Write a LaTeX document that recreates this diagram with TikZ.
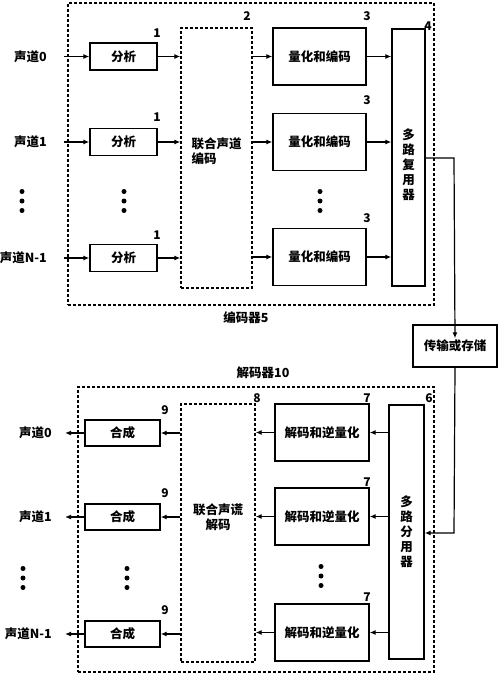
\documentclass[tikz,border=0pt]{standalone}
\usepackage{fontspec}
\newfontfamily\cjk{Noto Sans CJK SC}
\usetikzlibrary{arrows.meta,positioning}

\begin{document}
\begin{tikzpicture}[x=1pt, y=-1pt, font=\cjk\bfseries\fontsize{12.5}{15}\selectfont,
	box/.style = {draw, line width=1.4pt, inner sep=0pt},
	dbox/.style = {draw, line width=1.3pt, dash pattern=on 3pt off 2pt, inner sep=0pt},
	ana/.style = {box, minimum width=67pt, minimum height=27pt},
	qnt/.style = {box, minimum width=93pt, minimum height=57pt},
	syn/.style = {box, minimum width=75pt, minimum height=26pt},
	num/.style = {font=\cjk\bfseries\fontsize{12}{13}\selectfont, inner sep=0pt},
	inl/.style = {anchor=east, inner xsep=17pt},
	outl/.style = {anchor=east, inner xsep=13pt},
	arr/.style = {-{Latex[length=6pt,width=5pt]}, line width=1.2pt}]
	\useasboundingbox (0,0) rectangle (500,677);

	% encoder
	\node[dbox, minimum width=366pt, minimum height=302pt] (enc) at (251,154) {};
	\node (enclab) at (246,318) {编码器5};
	\node[inl] (c0) at (64,56.5) {声道0};
	\node[inl] (c1) at (64,142) {声道1};
	\node[inl] (c2) at (64,258) {声道N-1};
	\node[ana] (a0) at (123.5,56.5) {分析};
	\node[ana] (a1) at (123.5,142) {分析};
	\node[ana] (a2) at (123.5,258) {分析};
	\node[dbox, minimum width=71pt, minimum height=260pt,
		label={[align=left, yshift=6.5pt]center:{联合声道\\编码}}] (je) at (216.5,158) {};
	\node[qnt] (q0) at (319.5,56.5) {量化和编码};
	\node[qnt] (q1) at (319.5,142) {量化和编码};
	\node[qnt] (q2) at (319.5,257) {量化和编码};
	\node[box, minimum width=33pt, minimum height=257pt,
		label={[align=center, yshift=-7.5pt]center:{多\\路\\复\\用\\器}}] (mux) at (408.5,157.5) {};
	\node[box, minimum width=84pt, minimum height=42pt] (st) at (455,346) {传输或存储};
	\coordinate (tap) at (454,158);
	\coordinate (tap2) at (454,533);

	\node[num] (n1a) at (157,33) {1};
	\node[num] (n1b) at (157,117) {1};
	\node[num] (n1c) at (157,235) {1};
	\node[num] (n2) at (247,16) {2};
	\node[num] (n3a) at (367,16) {3};
	\node[num] (n3b) at (367,100) {3};
	\node[num] (n3c) at (367,218) {3};
	\node[num] (n4) at (428,26) {4};

	\draw[arr] (c0) -- (a0);
	\draw[arr] (c1) -- (a1);
	\draw[arr] (c2) -- (a2);
	\draw[arr] (a0) -- (a0 -| je.west);
	\draw[arr] (a1) -- (a1 -| je.west);
	\draw[arr] (a2) -- (a2 -| je.west);
	\draw[arr] (je.east |- q0) -- (q0);
	\draw[arr] (je.east |- q1) -- (q1);
	\draw[arr] (je.east |- q2) -- (q2);
	\draw[arr] (q0) -- (q0 -| mux.west);
	\draw[arr] (q1) -- (q1 -| mux.west);
	\draw[arr] (q2) -- (q2 -| mux.west);
	\draw[arr] (mux.east |- tap) -- (tap) -- ([yshift=-14pt]st.north);

	% decoder
	\node[dbox, minimum width=356pt, minimum height=285pt] (dec) at (256,529.5) {};
	\node (declab) at (263,373) {解码器10};
	\node[box, minimum width=35pt, minimum height=254pt, align=center] (dmx) at (406.5,532) {多\\路\\分\\用\\器};
	\node[qnt, minimum width=94pt] (d0) at (322,432.5) {解码和逆量化};
	\node[qnt, minimum width=94pt] (d1) at (322,516.5) {解码和逆量化};
	\node[qnt, minimum width=94pt] (d2) at (322,632.5) {解码和逆量化};
	\node[dbox, minimum width=74pt, minimum height=258pt,
		label={[align=center, yshift=16pt]center:{联合声谎\\解码}}] (jd) at (218,533) {};
	\node[syn] (s0) at (122.5,433) {合成};
	\node[syn] (s1) at (122.5,517) {合成};
	\node[syn] (s2) at (122.5,634) {合成};
	\node[outl] (o0) at (65,433) {声道0};
	\node[outl] (o1) at (65,517) {声道1};
	\node[outl] (o2) at (65,634) {声道N-1};

	\node[num] (n9a) at (165,410) {9};
	\node[num] (n9b) at (165,493) {9};
	\node[num] (n9c) at (165,610) {9};
	\node[num] (n8) at (257,398) {8};
	\node[num] (n7a) at (367,398) {7};
	\node[num] (n7b) at (367,482) {7};
	\node[num] (n7c) at (367,597) {7};
	\node[num] (n6) at (429,398) {6};

	\draw[arr] (st.south) -- (tap2) -- (tap2 -| dmx.east);
	\draw[arr] (dmx.west |- d0) -- (d0);
	\draw[arr] (dmx.west |- d1) -- (d1);
	\draw[arr] (dmx.west |- d2) -- (d2);
	\draw[arr] (d0) -- (d0 -| jd.east);
	\draw[arr] (d1) -- (d1 -| jd.east);
	\draw[arr] (d2) -- (d2 -| jd.east);
	\draw[arr] (jd.west |- s0) -- (s0);
	\draw[arr] (jd.west |- s1) -- (s1);
	\draw[arr] (jd.west |- s2) -- (s2);
	\draw[arr] (s0) -- (o0);
	\draw[arr] (s1) -- (o1);
	\draw[arr] (s2) -- (o2);

	% dots
	\foreach \x/\y in {22/201, 124/201, 320/201, 23/578, 127/578, 321/576}
		\foreach \d in {-9.5,0,9.5}
			\fill (\x,\y+\d) circle (2.5pt);
\end{tikzpicture}
\end{document}
